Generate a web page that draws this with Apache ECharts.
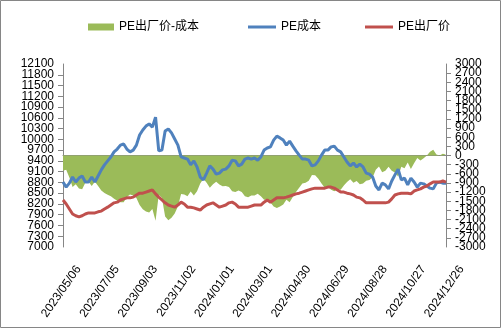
<!DOCTYPE html>
<html>
<head>
<meta charset="utf-8">
<script src="https://cdn.jsdelivr.net/npm/echarts@6/dist/echarts.min.js"></script>
<style>
  html, body { margin: 0; padding: 0; background: #ffffff; }
  #chart { width: 501px; height: 328px; }
</style>
</head>
<body>
<div id="chart"></div>
<script>
// Observation dates: one reading every 5 days from the start date
const startDate = '2023/05/06';
const stepDays = 5;

// Date labels on the horizontal axis (every 60 days)
const tickLabels = [
  '2023/05/06', '2023/07/05', '2023/09/03', '2023/11/02', '2024/01/01', '2024/03/01',
  '2024/04/30', '2024/06/29', '2024/08/28', '2024/10/27', '2024/12/26'
];

// Axis ranges (yuan/ton on the left, spread on the right)
const leftRange = [7000, 12100];
const rightRange = [-3000, 3000];
const yStep = 300;

// PE成本 (yuan/ton)
const cost = [
  8810, 8670, 8780, 8950, 8810, 8920, 8980, 8810, 8810, 8950,
  8810, 8980, 9150, 9290, 9400, 9510, 9650, 9730, 9840, 9870,
  9730, 9650, 9700, 9840, 10120, 10260, 10370, 10430, 10340, 10620,
  9680, 9700, 10230, 10290, 10180, 10010, 9840, 9510, 9480, 9450,
  9290, 9400, 9230, 8950, 8870, 9060, 9260, 9170, 9030, 9060,
  9150, 9170, 9260, 9420, 9400, 9260, 9310, 9450, 9480, 9450,
  9480, 9420, 9510, 9700, 9760, 9790, 9980, 10090, 10040, 9980,
  9840, 9950, 9810, 9680, 9560, 9450, 9450, 9420, 9260, 9290,
  9400, 9560, 9700, 9700, 9790, 9810, 9700, 9650, 9510, 9370,
  9260, 9340, 9230, 9310, 9230, 9060, 9030, 8950, 8700, 8590,
  8780, 8730, 8620, 8840, 9010, 9170, 8870, 8920, 8730, 8920,
  8810, 8670, 8780, 8760, 8700, 8640, 8620, 8780, 8810, 8780,
  8780
];

// PE出厂价 (yuan/ton)
const price = [
  8310, 8200, 8060, 7920, 7870, 7840, 7870, 7920, 7950, 7950,
  7950, 7980, 8000, 8060, 8110, 8170, 8230, 8250, 8310, 8340,
  8370, 8370, 8390, 8450, 8500, 8500, 8530, 8560, 8590, 8480,
  8390, 8310, 8230, 8170, 8140, 8110, 8170, 8250, 8200, 8110,
  8110, 8090, 8060, 8030, 8110, 8170, 8200, 8230, 8170, 8110,
  8140, 8170, 8230, 8250, 8200, 8110, 8110, 8110, 8110, 8140,
  8170, 8170, 8170, 8250, 8310, 8250, 8310, 8370, 8370, 8370,
  8390, 8420, 8450, 8480, 8500, 8530, 8560, 8590, 8620, 8640,
  8640, 8640, 8640, 8670, 8670, 8640, 8590, 8530, 8530, 8500,
  8480, 8450, 8390, 8370, 8310, 8230, 8230, 8230, 8230, 8230,
  8230, 8230, 8250, 8340, 8450, 8480, 8500, 8500, 8500, 8480,
  8560, 8590, 8620, 8670, 8700, 8760, 8810, 8810, 8810, 8840,
  8810
];

const DAY = 86400000;
function parseDate(s) {
  const p = s.split('/').map(Number);
  return Date.UTC(p[0], p[1] - 1, p[2]);
}
function fmtDate(t) {
  const d = new Date(t);
  const mm = String(d.getUTCMonth() + 1).padStart(2, '0');
  const dd = String(d.getUTCDate()).padStart(2, '0');
  return d.getUTCFullYear() + '/' + mm + '/' + dd;
}
const t0 = parseDate(startDate);
const dates = cost.map((_, i) => fmtDate(t0 + i * stepDays * DAY));
const dayOf = s => Math.round((parseDate(s) - t0) / DAY);

const costData = dates.map((d, i) => [dayOf(d), cost[i]]);
const priceData = dates.map((d, i) => [dayOf(d), price[i]]);
// 出厂价 minus 成本
const spreadData = dates.map((d, i) => [dayOf(d), price[i] - cost[i]]);

const axisGray = '#868686';
const fontFam = "'Liberation Sans', 'Noto Sans CJK SC', sans-serif";
const legendText = { fontSize: 12, color: '#000', fontFamily: fontFam };
const labelText = { fontSize: 12, color: '#000', fontFamily: fontFam };

// Main value axis: inner tick labels (the two end labels come from a twin axis,
// so ECharts' end-label overlap check never drops their neighbours)
function valueAxis(range, position) {
  return {
    type: 'value',
    position: position,
    min: range[0],
    max: range[1],
    interval: yStep,
    axisLine: { show: true, lineStyle: { color: axisGray, width: 1 } },
    axisTick: { show: true, length: 5, lineStyle: { color: axisGray } },
    splitLine: { show: false },
    axisLabel: Object.assign({
      margin: 9,
      showMinLabel: false,
      showMaxLabel: false,
      hideOverlap: false,
      formatter: v => String(v)
    }, labelText)
  };
}
// Twin axis carrying only the end labels
function endLabelAxis(range, position) {
  return {
    type: 'value',
    position: position,
    min: range[0],
    max: range[1],
    interval: yStep,
    axisLine: { show: false },
    axisTick: { show: false },
    splitLine: { show: false },
    axisLabel: Object.assign({
      margin: 9,
      showMinLabel: true,
      showMaxLabel: true,
      hideOverlap: false,
      formatter: v => (v === range[0] || v === range[1]) ? String(v) : ''
    }, labelText)
  };
}

const chart = echarts.init(document.getElementById('chart'), null, { renderer: 'canvas' });
chart.setOption({
  animation: false,
  backgroundColor: '#ffffff',
  graphic: [{
    type: 'rect',
    shape: { x: 0.5, y: 0.5, width: 500, height: 327 },
    style: { fill: 'none', stroke: axisGray, lineWidth: 1 },
    silent: true
  }],
  legend: [
    {
      left: 83,
      top: 16,
      itemWidth: 26,
      itemHeight: 7,
      textStyle: legendText,
      data: [{ name: 'PE出厂价-成本', icon: 'rect' }]
    },
    {
      left: 243,
      top: 16,
      itemWidth: 28,
      itemHeight: 3,
      itemGap: 44,
      textStyle: legendText,
      data: [{ name: 'PE成本', icon: 'rect' }, { name: 'PE出厂价', icon: 'rect' }]
    }
  ],
  grid: { left: 63, right: 55, top: 64, bottom: 81 },
  xAxis: {
    type: 'value',
    min: 0,
    max: 600,
    interval: 60,
    axisLine: { show: true, lineStyle: { color: axisGray, width: 1 } },
    axisTick: { show: true, length: 5, lineStyle: { color: axisGray } },
    splitLine: { show: false },
    axisLabel: Object.assign({
      rotate: 55,
      margin: 9,
      verticalAlign: 'top',
      padding: [13, 0, 0, 0],
      showMinLabel: true,
      showMaxLabel: true,
      hideOverlap: false,
      formatter: v => tickLabels[Math.round(v / 60)] || ''
    }, labelText)
  },
  yAxis: [
    valueAxis(leftRange, 'left'),
    valueAxis(rightRange, 'right'),
    endLabelAxis(leftRange, 'left'),
    endLabelAxis(rightRange, 'right')
  ],
  series: [
    {
      name: 'PE出厂价-成本',
      type: 'line',
      yAxisIndex: 1,
      data: spreadData,
      symbol: 'none',
      color: '#9BBB59',
      lineStyle: { width: 0 },
      areaStyle: { color: '#9BBB59', opacity: 1 },
      z: 1
    },
    {
      name: 'PE成本',
      type: 'line',
      yAxisIndex: 0,
      data: costData,
      symbol: 'none',
      color: '#4F81BD',
      lineStyle: { width: 3, color: '#4F81BD' },
      z: 2
    },
    {
      name: 'PE出厂价',
      type: 'line',
      yAxisIndex: 0,
      data: priceData,
      symbol: 'none',
      color: '#C0504D',
      lineStyle: { width: 3, color: '#C0504D' },
      z: 3
    }
  ]
});
</script>
</body>
</html>
